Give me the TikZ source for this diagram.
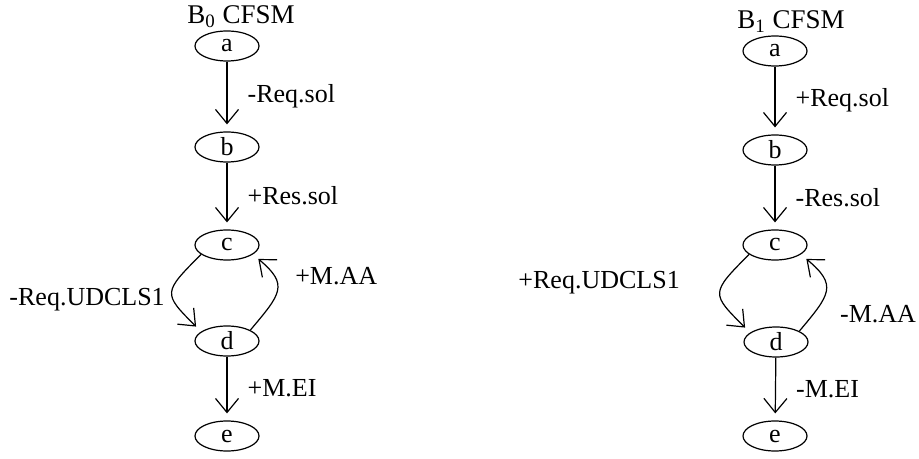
\documentclass[tikz,border=0pt]{standalone}
\usepackage{fontspec}
\setmainfont{Liberation Serif}
\usetikzlibrary{arrows.meta,shapes.geometric,positioning}
\tikzset{
  cfstate/.style={ellipse, draw, line width=0.6pt, minimum width=32pt, minimum height=15pt, inner sep=0pt},
  trans/.style={-{Straight Barb[length=7pt,width=11.5pt]}, line width=0.6pt, shorten >=3.5pt},
  lbl/.style={right, inner sep=0pt, xshift=10pt},
}
\begin{document}
\begin{tikzpicture}[x=0.5pt,y=-0.5pt,font=\fontsize{13}{15}\selectfont]
\useasboundingbox (0,0) rectangle (919,459);
% B0 machine
\node[cfstate] (a0) at (227,46) {a};
\node[cfstate] (b0) at (227,147) {b};
\node[cfstate] (c0) at (227,245) {c};
\node[cfstate] (d0) at (227,341) {d};
\node[cfstate] (e0) at (227,436) {e};
\node[inner sep=1pt, above=0pt of a0, xshift=7pt, font=\fontsize{13.5}{15}\selectfont] (t0) {B\textsubscript{0} CFSM};
\draw[trans] (a0) -- node[lbl] {-Req.sol} (b0);
\draw[trans] (b0) -- node[lbl] {+Res.sol} (c0);
\draw[trans] (c0.200) to[out=225,in=135,looseness=1.8]
  node[left, inner sep=2pt, xshift=-1.5pt, yshift=-3.5pt] {-Req.UDCLS1} (d0.160);
\draw[trans] (d0.25) to[out=50,in=-40,looseness=1.6]
  node[right, inner sep=2pt, xshift=7pt, yshift=7pt] {+M.AA} (c0.340);
\draw[trans] (d0) -- node[lbl] {+M.EI} (e0);
% B1 machine
\node[cfstate] (a1) at (775,51) {a};
\node[cfstate] (b1) at (775,150) {b};
\node[cfstate] (c1) at (775,245) {c};
\node[cfstate] (d1) at (776,342) {d};
\node[cfstate] (e1) at (775,436) {e};
\node[inner sep=1pt, above=0pt of a1, xshift=8pt, font=\fontsize{13.5}{15}\selectfont] (t1) {B\textsubscript{1} CFSM};
\draw[trans] (a1) -- node[lbl] {+Req.sol} (b1);
\draw[trans] (b1) -- node[lbl] {-Res.sol} (c1);
\draw[trans] (c1.200) to[out=225,in=135,looseness=1.8]
  node[left, inner sep=2pt, xshift=-18pt, yshift=5.5pt] {+Req.UDCLS1} (d1.160);
\draw[trans] (d1.25) to[out=50,in=-40,looseness=1.6]
  node[right, inner sep=1pt, xshift=6pt, yshift=-12pt] {-M.AA} (c1.340);
\draw[trans] (d1) -- node[lbl] {-M.EI} (e1);
\end{tikzpicture}
\end{document}
